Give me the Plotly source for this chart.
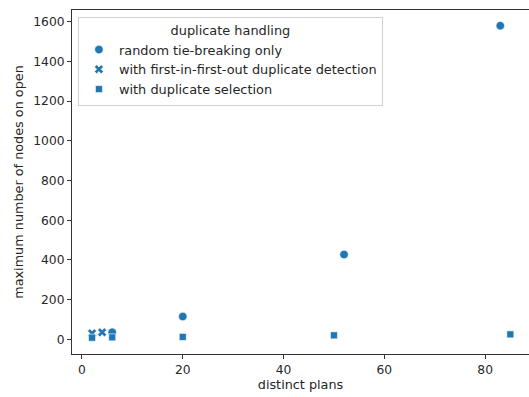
import plotly.graph_objects as go

# Data
rand_x = [6, 20, 52, 83]
rand_y = [35, 115, 427, 1580]
fifo_x = [2, 4]
fifo_y = [30, 35]
sel_x = [2, 6, 20, 50, 85]
sel_y = [8, 10, 12, 20, 25]

series_names = ["random tie-breaking only",
                "with first-in-first-out duplicate detection",
                "with duplicate selection"]

color = "#1f77b4"
font = "DejaVu Sans"

fig = go.Figure()
fig.add_trace(go.Scatter(x=rand_x, y=rand_y, mode="markers", name=series_names[0],
                         marker=dict(symbol="circle", size=8.5, color=color,
                                     line=dict(color="white", width=0.6))))
fig.add_trace(go.Scatter(x=fifo_x, y=fifo_y, mode="markers", name=series_names[1],
                         marker=dict(symbol="x", size=8, color=color,
                                     line=dict(color="white", width=0.6))))
fig.add_trace(go.Scatter(x=sel_x, y=sel_y, mode="markers", name=series_names[2],
                         marker=dict(symbol="square", size=7, color=color,
                                     line=dict(color="white", width=0.6))))

axis_common = dict(showgrid=False, zeroline=False, showline=True, linecolor="#333333",
                   linewidth=1, ticks="outside", ticklen=4, tickcolor="#333333",
                   automargin=False,
                   tickfont=dict(family=font, size=12.3, color="#262626"))

fig.update_xaxes(range=[-1.98, 88.7], tickvals=[0, 20, 40, 60, 80], mirror=True,
                 title=dict(text="distinct plans", font=dict(family=font, size=12.8, color="#262626"),
                            standoff=4),
                 **axis_common)
fig.update_yaxes(range=[-74, 1659], tickvals=[0, 200, 400, 600, 800, 1000, 1200, 1400, 1600],
                 title=dict(text="maximum number of nodes on open",
                            font=dict(family=font, size=12.8, color="#262626"), standoff=6),
                 **axis_common)

fig.update_layout(
    width=529, height=397,
    margin=dict(l=72, r=0, t=10, b=43, autoexpand=False),
    plot_bgcolor="white", paper_bgcolor="white",
    font=dict(family=font, size=12.8, color="#262626"),
    legend=dict(title=dict(text="duplicate handling", side="top center",
                           font=dict(family=font, size=12.9, color="#262626")),
                x=0.013, y=0.98, xanchor="left", yanchor="top",
                bordercolor="#d0d0d0", borderwidth=1, bgcolor="rgba(255,255,255,0.8)",
                font=dict(family=font, size=12.9, color="#262626"),
                tracegroupgap=0, itemwidth=30),
    showlegend=True,
)

fig.write_html("out.html", config={"displayModeBar": False},
               post_script="document.body.style.margin='0';document.body.style.overflow='hidden';")
